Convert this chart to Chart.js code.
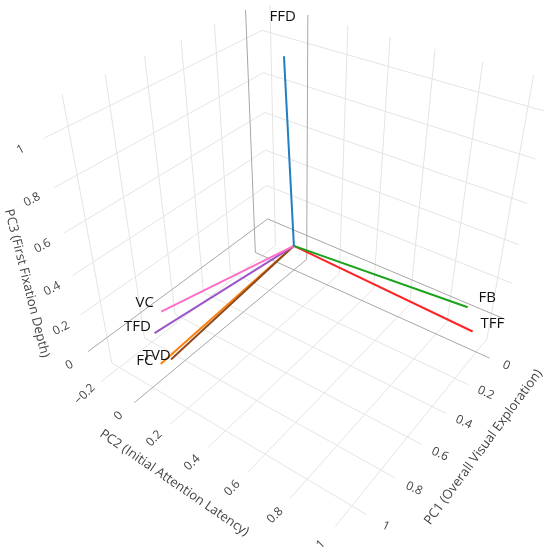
<!DOCTYPE html>
<html>
<head>
  <meta charset="UTF-8">
  <title>PCA loadings 3D</title>
  <script src="https://cdn.jsdelivr.net/npm/chart.js"></script>
  <style>
    html, body { margin: 0; padding: 0; background: #fff; }
    #wrap { width: 550px; height: 557px; position: relative; }
  </style>
</head>
<body>
<div id="wrap"><canvas id="biplot"></canvas></div>
<script>
  // loadings
  const variables = ['FFD', 'FB', 'TFF', 'VC', 'TFD', 'TVD', 'FC'];
  const pc1 = [0.06, -0.05, -0.05, 0.90, 0.95, 0.88, 0.94];
  const pc2 = [0.00, 0.91, 0.95, 0.00, 0.00, 0.00, 0.00];
  const pc3 = [1.00, 0.03, -0.09, 0.20, 0.12, -0.08, -0.06];
  const colors = ['#1f7fc0', '#1aa31a', '#ff2424', '#ff6ec7', '#9b55c8', '#8c4a1e', '#ff7f0e'];

  const xTicks = [0, 0.2, 0.4, 0.6, 0.8, 1];
  const yTicks = [-0.2, 0, 0.2, 0.4, 0.6, 0.8, 1];
  const zTicks = [0, 0.2, 0.4, 0.6, 0.8, 1];
  const xRange = [-0.108, 1.107];
  const yRange = [-0.247, 1.064];
  const zRange = [-0.148, 1.124];
  const axisTitles = ['PC1 (Overall Visual Exploration)', 'PC2 (Initial Attention Latency)', 'PC3 (First Fixation Depth)'];

  // perspective camera for the scene box
  const cam = { az: 36.17, el: 35.9, dist: 2.684, focal: 831, cx: 301.3, cy: 241.7, sides: [1, 1.0835, 1.0556] };

  const rad = Math.PI / 180;
  const ranges = [xRange, yRange, zRange];
  const az = cam.az * rad, el = cam.el * rad;
  const eye = [cam.dist * Math.cos(el) * Math.cos(az), cam.dist * Math.cos(el) * Math.sin(az), cam.dist * Math.sin(el)];
  const fwd = [-Math.cos(el) * Math.cos(az), -Math.cos(el) * Math.sin(az), -Math.sin(el)];
  const right = [-Math.sin(az), Math.cos(az), 0];
  const up = [-Math.sin(el) * Math.cos(az), -Math.sin(el) * Math.sin(az), Math.cos(el)];
  const dot = (a, b) => a[0] * b[0] + a[1] * b[1] + a[2] * b[2];

  function project(p) {
    const w = p.map((v, i) => (v - (ranges[i][0] + ranges[i][1]) / 2) / (ranges[i][1] - ranges[i][0]) * cam.sides[i]);
    const d = [w[0] - eye[0], w[1] - eye[1], w[2] - eye[2]];
    const depth = dot(d, fwd);
    return { x: cam.cx + cam.focal * dot(d, right) / depth, y: cam.cy - cam.focal * dot(d, up) / depth };
  }

  const [x0, x1] = xRange, [y0, y1] = yRange, [z0, z1] = zRange;
  const datasets = [];

  function addSegment(a, b, color, width, order) {
    datasets.push({
      data: [project(a), project(b)],
      borderColor: color, borderWidth: width,
      showLine: true, pointRadius: 0, fill: false, order: order
    });
  }
  function grid(v, a, b) {
    const zero = Math.abs(v) < 1e-9;
    addSegment(a, b, zero ? '#a6a6a6' : '#e4e4e4', 1, zero ? 1 : 2);
  }

  // floor and the two back walls
  xTicks.forEach(x => { grid(x, [x, y0, z0], [x, y1, z0]); grid(x, [x, y0, z0], [x, y0, z1]); });
  yTicks.forEach(y => { grid(y, [x0, y, z0], [x1, y, z0]); grid(y, [x0, y, z0], [x0, y, z1]); });
  zTicks.forEach(z => { grid(z, [x0, y0, z], [x1, y0, z]); grid(z, [x0, y0, z], [x0, y1, z]); });

  // loading vectors
  variables.forEach((name, i) => {
    addSegment([0, 0, 0], [pc1[i], pc2[i], pc3[i]], colors[i], 2, 0);
  });

  // texts
  const texts = [];
  const fmt = v => (v < 0 ? '\u2212' : '') + String(Math.abs(v));
  const tickFont = '12px "Open Sans", sans-serif';
  const titleFont = '13px "Open Sans", sans-serif';
  xTicks.forEach(x => texts.push({ p: project([x, y1 + 0.08, z0]), s: fmt(x), font: tickFont, color: '#444', rot: 25 }));
  yTicks.forEach(y => texts.push({ p: project([x1 + 0.09, y, z0]), s: fmt(y), font: tickFont, color: '#444', rot: -45 }));
  zTicks.forEach(z => texts.push({ p: project([x1 + 0.1, y0, z]), s: fmt(z), font: tickFont, color: '#444', rot: -28 }));
  texts.push({ p: project([0.47, y1 + 0.2, z0]), s: axisTitles[0], font: titleFont, color: '#444', rot: -53.6 });
  texts.push({ p: project([x1 + 0.2, 0.41, z0]), s: axisTitles[1], font: titleFont, color: '#444', rot: 34.5 });
  texts.push({ p: project([x1 + 0.15, y0 - 0.08, 0.42]), s: axisTitles[2], font: titleFont, color: '#444', rot: 76 });
  variables.forEach((name, i) => {
    const q = project([pc1[i] * 1.1, pc2[i] * 1.1, pc3[i] * 1.1]);
    texts.push({ p: { x: q.x, y: q.y - 17 }, s: name, font: '15px "Open Sans", sans-serif', color: '#111', rot: 0 });
  });

  const textPlugin = {
    id: 'sceneText',
    afterDatasetsDraw(chart) {
      const ctx = chart.ctx, sx = chart.scales.x, sy = chart.scales.y;
      texts.forEach(t => {
        ctx.save();
        ctx.translate(sx.getPixelForValue(t.p.x), sy.getPixelForValue(t.p.y));
        ctx.rotate(t.rot * rad);
        ctx.font = t.font;
        ctx.fillStyle = t.color;
        ctx.textAlign = 'center';
        ctx.textBaseline = 'middle';
        ctx.fillText(t.s, 0, 0);
        ctx.restore();
      });
    }
  };

  new Chart(document.getElementById('biplot'), {
    type: 'scatter',
    data: { datasets: datasets },
    options: {
      responsive: true,
      maintainAspectRatio: false,
      animation: false,
      layout: { padding: 0 },
      plugins: { legend: { display: false }, tooltip: { enabled: false } },
      scales: {
        x: { type: 'linear', min: 0, max: 550, display: false },
        y: { type: 'linear', min: 0, max: 557, reverse: true, display: false }
      }
    },
    plugins: [textPlugin]
  });
</script>
</body>
</html>
